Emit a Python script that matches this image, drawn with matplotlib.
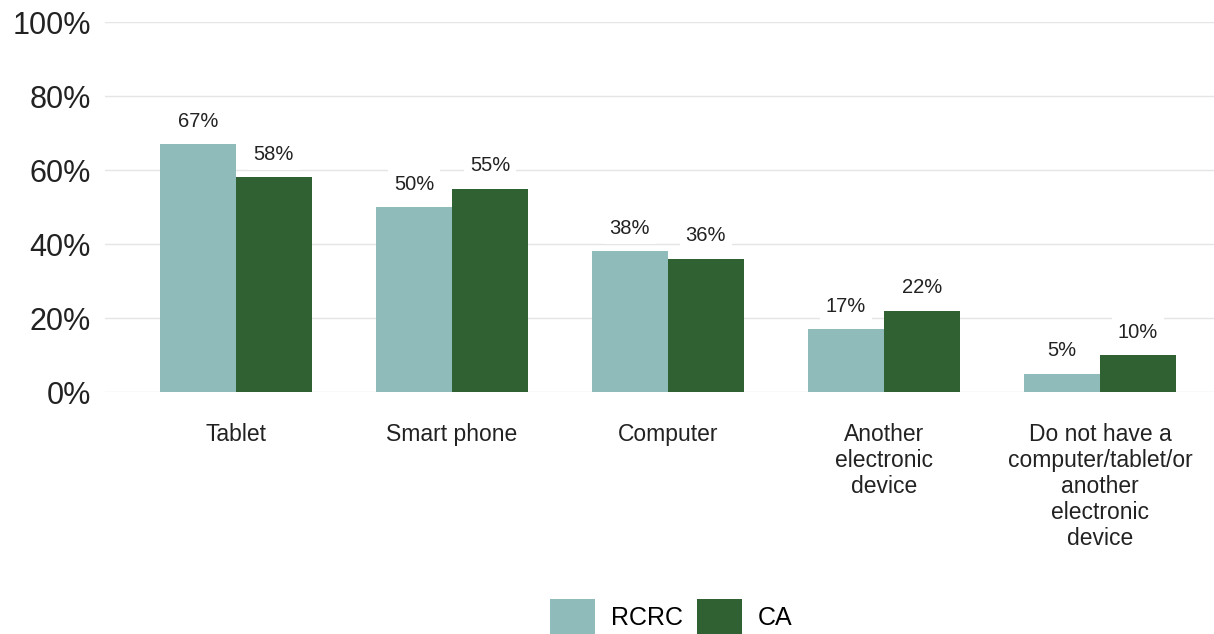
import numpy as np
import matplotlib.pyplot as plt

plt.rcParams['font.family'] = ['Liberation Sans', 'DejaVu Sans']

# Data
categories = ['Tablet', 'Smart phone', 'Computer', 'Another\nelectronic\ndevice',
              'Do not have a\ncomputer/tablet/or\nanother\nelectronic\ndevice']
rcrc = [67, 50, 38, 17, 5]
ca = [58, 55, 36, 22, 10]
series_names = ['RCRC', 'CA']
colors = ['#8fbcbb', '#2f6133']

fig = plt.figure(figsize=(12.14, 6.34), dpi=100)
ax = fig.add_axes([105 / 1214, 1 - 392 / 634, 1 - 105 / 1214, 370 / 634])

x = np.arange(len(categories))
w = 0.352
b1 = ax.bar(x - w / 2, rcrc, w, color=colors[0], label=series_names[0], zorder=2)
b2 = ax.bar(x + w / 2, ca, w, color=colors[1], label=series_names[1], zorder=2)

for bars, vals in [(b1, rcrc), (b2, ca)]:
    for bar, v in zip(bars, vals):
        ax.annotate(f'{v}%', (bar.get_x() + bar.get_width() / 2, v),
                    xytext=(0, 23), textcoords='offset pixels',
                    ha='center', va='center', fontsize=14.5, color='#222222',
                    bbox=dict(boxstyle='square,pad=0.3', fc='white', ec='none'), zorder=3)

ax.set_ylim(0, 100)
ax.set_xlim(-0.606, 4.528)
ax.set_yticks([0, 20, 40, 60, 80, 100])
ax.set_yticklabels(['0%', '20%', '40%', '60%', '80%', '100%'], fontsize=22, color='#222222')
ax.set_xticks(x)
ax.set_xticklabels(categories, fontsize=16.5, color='#222222', linespacing=1.17)
ax.tick_params(axis='both', length=0)
ax.tick_params(axis='x', pad=22)
ax.tick_params(axis='y', pad=10)
ax.grid(axis='y', color='#e5e5e5', linewidth=1, zorder=0)
for s in ax.spines.values():
    s.set_visible(False)

fig.legend(loc='center', bbox_to_anchor=(0.553, 1 - 617 / 634), ncol=2, frameon=False,
           fontsize=18, handlelength=1.8, handleheight=1.9, columnspacing=0.55,
           handletextpad=0.65, borderpad=0)

fig.savefig('out.png', dpi=100)
